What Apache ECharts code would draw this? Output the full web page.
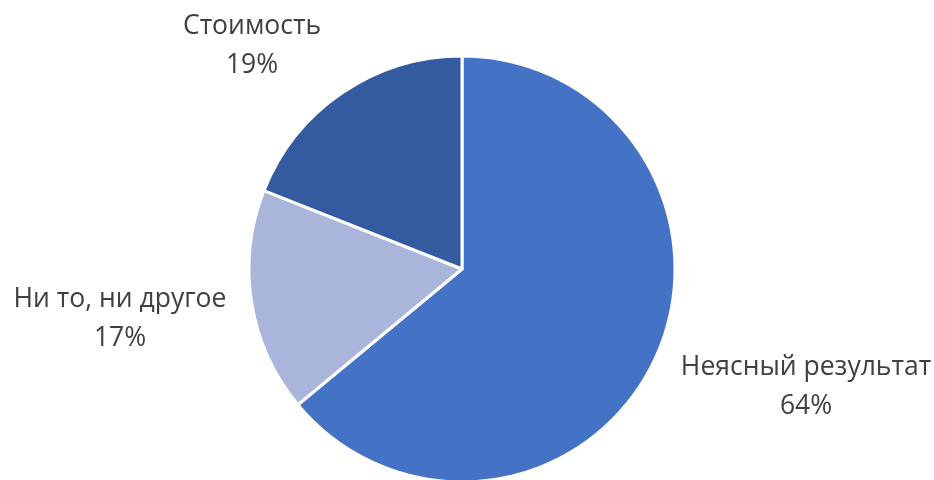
<!DOCTYPE html>
<html>
<head>
<meta charset="utf-8">
<script src="https://cdn.jsdelivr.net/npm/echarts@6/dist/echarts.min.js"></script>
<style>
  html, body { margin: 0; padding: 0; background: #ffffff; }
  #chart { width: 934px; height: 480px; }
</style>
</head>
<body>
<div id="chart"></div>
<script>
// Survey answers, clockwise from 12 o'clock
const categories = ['Неясный результат', 'Ни то, ни другое', 'Стоимость'];
const shares = [64, 17, 19];
const sliceColors = ['#4472C4', '#A9B5DA', '#345B9F'];

// Label anchor points (centre of the two-line label block)
const labelAnchors = [
  [806, 387],
  [120, 319],
  [252, 46]
];

const chart = echarts.init(document.getElementById('chart'), null, { renderer: 'canvas' });

chart.setOption({
  animation: false,
  backgroundColor: '#ffffff',
  series: [{
    type: 'pie',
    center: [462, 269],
    radius: 213,
    startAngle: 90,
    clockwise: true,
    silent: true,
    data: categories.map((name, i) => ({
      name,
      value: shares[i],
      itemStyle: { color: sliceColors[i] }
    })),
    itemStyle: { borderColor: '#ffffff', borderWidth: 3 },
    label: {
      show: true,
      position: 'outside',
      formatter: p => p.name + '\n' + p.value + '%',
      fontFamily: 'Open Sans',
      fontSize: 26.5,
      lineHeight: 39,
      color: '#404040',
      align: 'center',
      overflow: 'none'
    },
    labelLine: { show: false },
    labelLayout: params => {
      const a = labelAnchors[params.dataIndex];
      return { x: a[0], y: a[1], align: 'center', verticalAlign: 'middle' };
    }
  }]
});
</script>
</body>
</html>
